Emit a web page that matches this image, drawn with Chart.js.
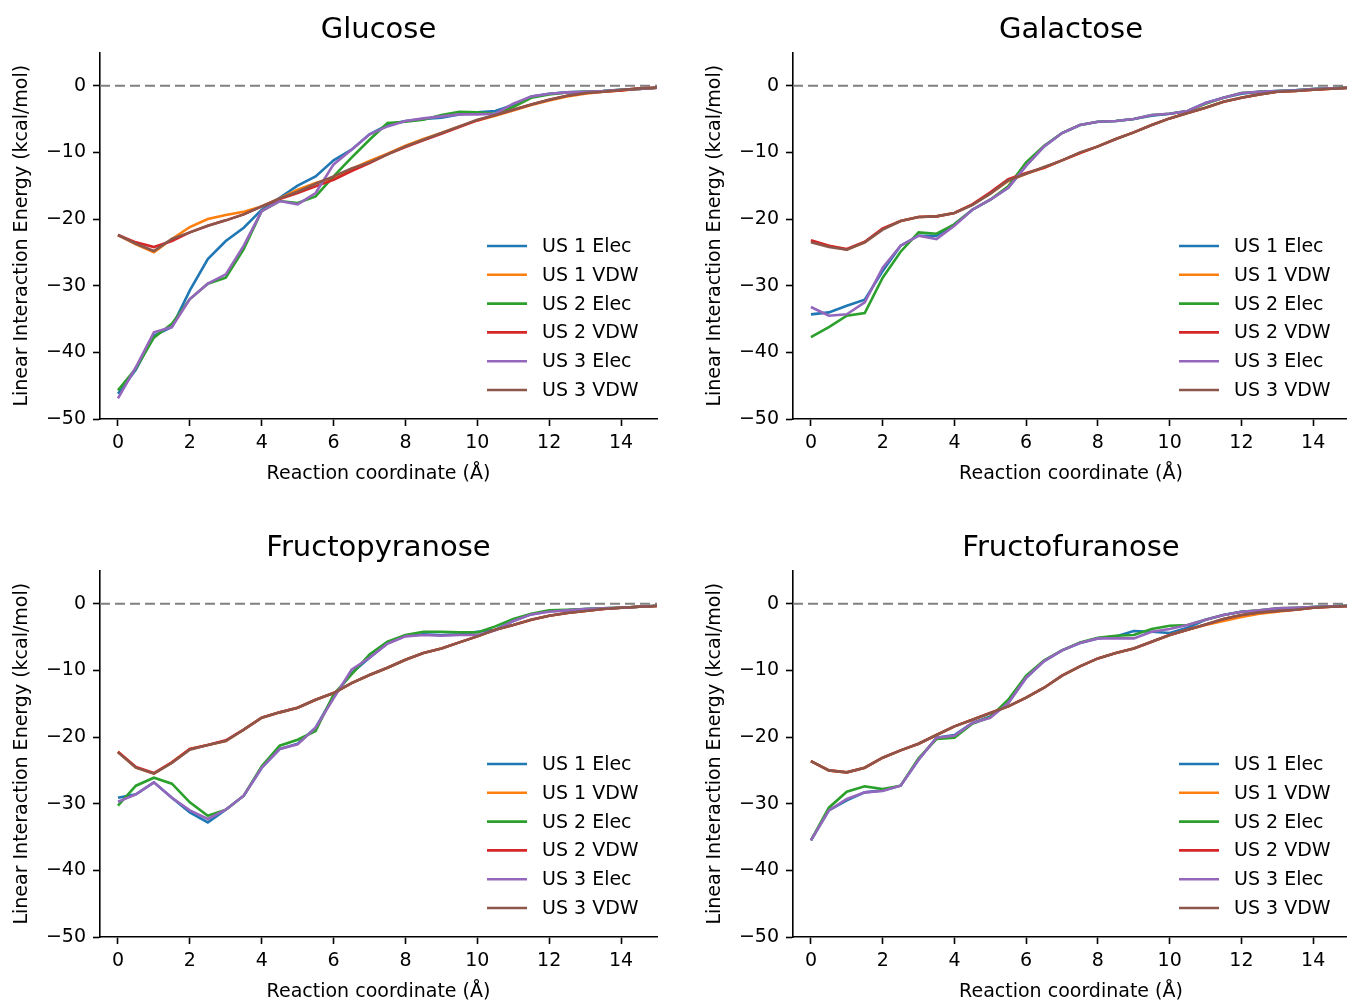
<!DOCTYPE html>
<html>
<head>
<meta charset="utf-8">
<script src="https://cdn.jsdelivr.net/npm/chart.js@4.4.1/dist/chart.umd.min.js"></script>
<style>
    html, body { margin: 0; padding: 0; background: #fff; overflow: hidden; }
    .panel { position: absolute; height: 500px; }
</style>
</head>
<body>
<div class="panel" style="left:0;top:0;width:673px"><canvas id="glucoseChart"></canvas></div>
<div class="panel" style="left:693px;top:0;width:656px"><canvas id="galactoseChart"></canvas></div>
<div class="panel" style="left:0;top:518px;width:673px"><canvas id="fructopyranoseChart"></canvas></div>
<div class="panel" style="left:693px;top:518px;width:656px"><canvas id="fructofuranoseChart"></canvas></div>
<script>
// reaction coordinate (Å)
const coords = [0, 0.5, 1, 1.5, 2, 2.5, 3, 3.5, 4, 4.5, 5, 5.5, 6, 6.5, 7, 7.5,
                8, 8.5, 9, 9.5, 10, 10.5, 11, 11.5, 12, 12.5, 13, 13.5, 14, 14.5, 15];
const xTicks = [0, 2, 4, 6, 8, 10, 12, 14];
const yTicks = [-50, -40, -30, -20, -10, 0];
const seriesLabels = ['US 1 Elec', 'US 1 VDW', 'US 2 Elec', 'US 2 VDW', 'US 3 Elec', 'US 3 VDW'];
const seriesColors = ['#1f77b4', '#ff7f0e', '#2ca02c', '#d62728', '#9467bd', '#8c564b'];

// Glucose
const glucoseUs1Elec = [-46.2, -42.6, -37.5, -36.2, -30.7, -26.0, -23.3, -21.3, -18.6, -16.8, -15.0, -13.6, -11.2, -9.6, -7.3, -5.9, -5.3, -5.0, -4.8, -4.3, -4.0, -3.8, -2.9, -1.6, -1.2, -1.0, -0.9, -0.8, -0.6, -0.5, -0.3];
const glucoseUs1Vdw = [-22.4, -23.8, -25.0, -23.0, -21.2, -20.0, -19.4, -18.9, -18.1, -16.9, -15.6, -14.6, -13.8, -12.5, -11.3, -10.2, -9.0, -8.0, -7.1, -6.1, -5.2, -4.5, -3.7, -2.9, -2.2, -1.6, -1.2, -0.9, -0.7, -0.5, -0.3];
const glucoseUs2Elec = [-45.7, -42.4, -37.8, -35.7, -32.0, -29.7, -28.8, -24.5, -18.8, -17.3, -17.6, -16.6, -13.6, -10.8, -8.1, -5.6, -5.4, -5.1, -4.4, -3.9, -4.0, -4.2, -3.2, -1.8, -1.3, -1.0, -0.9, -0.8, -0.6, -0.5, -0.3];
const glucoseUs2Vdw = [-22.4, -23.5, -24.2, -23.3, -22.0, -21.0, -20.2, -19.3, -18.1, -17.0, -16.1, -15.1, -14.1, -12.8, -11.6, -10.3, -9.2, -8.2, -7.2, -6.2, -5.2, -4.4, -3.6, -2.8, -2.1, -1.5, -1.1, -0.9, -0.7, -0.4, -0.3];
const glucoseUs3Elec = [-46.9, -42.2, -37.0, -36.2, -32.0, -29.7, -28.3, -24.0, -18.8, -17.3, -17.8, -16.1, -11.8, -9.6, -7.3, -6.1, -5.3, -4.9, -4.6, -4.3, -4.3, -4.2, -2.7, -1.6, -1.2, -1.0, -0.9, -0.8, -0.6, -0.5, -0.3];
const glucoseUs3Vdw = [-22.4, -23.7, -24.8, -23.0, -22.0, -21.0, -20.2, -19.3, -18.1, -16.9, -15.9, -14.7, -13.6, -12.4, -11.5, -10.3, -9.1, -8.1, -7.1, -6.1, -5.1, -4.4, -3.6, -2.8, -2.1, -1.5, -1.1, -0.9, -0.65, -0.4, -0.3];

// Galactose
const galactoseUs1Elec = [-34.3, -34.0, -33.0, -32.1, -27.8, -24.0, -22.5, -22.5, -20.8, -18.6, -17.1, -15.3, -12.0, -9.1, -7.1, -5.9, -5.4, -5.3, -5.0, -4.5, -4.2, -3.8, -2.6, -1.8, -1.2, -0.9, -0.8, -0.7, -0.5, -0.4, -0.3];
const galactoseUs1Vdw = [-23.3, -24.0, -24.6, -23.5, -21.5, -20.3, -19.7, -19.6, -19.1, -17.8, -16.2, -14.3, -13.2, -12.3, -11.2, -10.1, -9.1, -8.0, -7.0, -5.9, -4.9, -4.1, -3.3, -2.4, -1.8, -1.3, -0.9, -0.8, -0.6, -0.45, -0.3];
const galactoseUs2Elec = [-37.7, -36.2, -34.5, -34.1, -28.8, -24.9, -22.0, -22.2, -20.8, -18.6, -17.1, -15.1, -11.5, -9.0, -7.1, -5.9, -5.4, -5.3, -5.0, -4.4, -4.2, -3.8, -2.7, -1.8, -1.1, -0.9, -0.8, -0.7, -0.5, -0.4, -0.3];
const galactoseUs2Vdw = [-23.2, -24.0, -24.5, -23.4, -21.4, -20.3, -19.7, -19.6, -19.1, -17.8, -16.0, -14.0, -13.1, -12.3, -11.2, -10.1, -9.1, -8.0, -7.0, -5.9, -4.9, -4.1, -3.3, -2.4, -1.8, -1.3, -0.9, -0.8, -0.6, -0.45, -0.3];
const galactoseUs3Elec = [-33.2, -34.5, -34.3, -32.5, -27.3, -24.0, -22.5, -23.0, -21.0, -18.6, -17.1, -15.3, -12.0, -9.1, -7.1, -5.9, -5.4, -5.3, -5.0, -4.4, -4.2, -3.8, -2.6, -1.8, -1.1, -0.9, -0.8, -0.7, -0.5, -0.4, -0.3];
const galactoseUs3Vdw = [-23.5, -24.2, -24.6, -23.5, -21.6, -20.3, -19.7, -19.6, -19.1, -17.9, -16.2, -14.2, -13.2, -12.2, -11.2, -10.0, -9.1, -8.0, -7.0, -5.9, -4.9, -4.1, -3.3, -2.4, -1.8, -1.3, -0.9, -0.8, -0.6, -0.45, -0.3];

// Fructopyranose
const fructopyranoseUs1Elec = [-29.1, -28.6, -26.8, -29.1, -31.3, -32.8, -30.9, -28.8, -24.6, -21.8, -21.0, -18.6, -13.9, -10.4, -8.1, -5.9, -4.8, -4.6, -4.7, -4.6, -4.2, -3.9, -2.6, -1.6, -1.1, -1.0, -0.8, -0.7, -0.6, -0.45, -0.3];
const fructopyranoseUs1Vdw = [-22.2, -24.6, -25.5, -23.8, -21.8, -21.2, -20.6, -18.9, -17.1, -16.3, -15.6, -14.4, -13.4, -11.9, -10.7, -9.6, -8.4, -7.4, -6.7, -5.8, -4.9, -3.9, -3.2, -2.4, -1.8, -1.4, -1.1, -0.8, -0.6, -0.45, -0.35];
const fructopyranoseUs2Elec = [-30.3, -27.3, -26.1, -27.0, -29.8, -31.8, -30.9, -28.8, -24.4, -21.3, -20.4, -19.1, -13.6, -10.6, -7.6, -5.7, -4.7, -4.2, -4.2, -4.3, -4.3, -3.4, -2.3, -1.5, -1.0, -0.9, -0.8, -0.7, -0.6, -0.45, -0.3];
const fructopyranoseUs2Vdw = [-22.2, -24.5, -25.4, -23.8, -21.8, -21.2, -20.5, -18.9, -17.1, -16.3, -15.6, -14.4, -13.4, -11.9, -10.7, -9.6, -8.4, -7.4, -6.7, -5.8, -4.9, -3.9, -3.2, -2.4, -1.8, -1.4, -1.1, -0.8, -0.6, -0.45, -0.35];
const fructopyranoseUs3Elec = [-29.7, -28.6, -26.8, -29.1, -31.0, -32.3, -30.9, -28.8, -24.6, -21.8, -21.1, -18.6, -14.2, -9.9, -8.1, -6.0, -4.9, -4.7, -4.8, -4.7, -4.7, -4.0, -2.6, -1.6, -1.2, -1.0, -0.8, -0.7, -0.6, -0.45, -0.3];
const fructopyranoseUs3Vdw = [-22.3, -24.6, -25.5, -23.9, -21.9, -21.2, -20.6, -18.9, -17.1, -16.3, -15.6, -14.4, -13.4, -11.9, -10.7, -9.6, -8.4, -7.4, -6.7, -5.8, -4.9, -3.9, -3.2, -2.4, -1.8, -1.4, -1.1, -0.8, -0.6, -0.45, -0.35];

// Fructofuranose
const fructofuranoseUs1Elec = [-35.5, -31.0, -29.5, -28.3, -28.0, -27.3, -23.4, -20.1, -19.7, -17.9, -16.9, -14.9, -11.1, -8.6, -7.0, -5.9, -5.2, -4.9, -4.1, -4.2, -4.4, -3.6, -2.4, -1.7, -1.2, -1.1, -0.8, -0.7, -0.5, -0.4, -0.3];
const fructofuranoseUs1Vdw = [-23.6, -25.0, -25.3, -24.6, -23.1, -22.0, -21.0, -19.7, -18.4, -17.4, -16.4, -15.4, -14.1, -12.6, -10.8, -9.4, -8.2, -7.4, -6.7, -5.7, -4.7, -3.9, -3.2, -2.6, -2.0, -1.5, -1.2, -0.9, -0.6, -0.45, -0.35];
const fructofuranoseUs2Elec = [-35.5, -30.6, -28.2, -27.4, -27.8, -27.3, -23.2, -20.3, -20.1, -18.0, -17.0, -14.4, -10.8, -8.5, -7.0, -5.8, -5.1, -4.8, -4.7, -3.8, -3.3, -3.2, -2.4, -1.7, -1.2, -1.0, -0.7, -0.6, -0.5, -0.4, -0.3];
const fructofuranoseUs2Vdw = [-23.6, -25.0, -25.3, -24.6, -23.1, -22.0, -21.0, -19.7, -18.4, -17.4, -16.4, -15.4, -14.1, -12.6, -10.8, -9.4, -8.2, -7.4, -6.7, -5.7, -4.7, -3.9, -3.1, -2.3, -1.7, -1.3, -1.1, -0.9, -0.6, -0.45, -0.35];
const fructofuranoseUs3Elec = [-35.5, -31.0, -29.3, -28.3, -28.1, -27.3, -23.4, -20.1, -19.8, -17.9, -17.1, -14.9, -11.1, -8.6, -7.0, -5.9, -5.2, -5.2, -5.2, -4.2, -3.8, -3.2, -2.4, -1.7, -1.2, -1.0, -0.7, -0.6, -0.5, -0.4, -0.3];
const fructofuranoseUs3Vdw = [-23.6, -25.0, -25.3, -24.6, -23.1, -22.0, -21.0, -19.7, -18.4, -17.4, -16.4, -15.4, -14.1, -12.6, -10.8, -9.4, -8.2, -7.4, -6.7, -5.7, -4.7, -3.9, -3.1, -2.3, -1.7, -1.3, -1.1, -0.9, -0.6, -0.45, -0.35];

const FONT = 'DejaVu Sans';
const xRange = [-0.5, 15];

// legend drawn inside the plot, lower right
const innerLegend = {
    id: 'innerLegend',
    afterDraw(chart) {
        const ctx = chart.ctx;
        const area = chart.chartArea;
        ctx.save();
        ctx.font = '19px "' + FONT + '"';
        ctx.textBaseline = 'middle';
        ctx.textAlign = 'left';
        seriesLabels.forEach(function(label, i) {
            const y = area.bottom - 173 + i * 28.8;
            ctx.strokeStyle = seriesColors[i];
            ctx.lineWidth = 2.6;
            ctx.beginPath();
            ctx.moveTo(area.right - 170, y);
            ctx.lineTo(area.right - 130, y);
            ctx.stroke();
            ctx.fillStyle = '#000';
            ctx.fillText(label, area.right - 115, y + 1);
        });
        ctx.restore();
    }
};

function fmtTick(v) {
    return v < 0 ? '\u2212' + Math.abs(v) : String(v);
}

function makePanel(canvasId, title, series, padRight) {
    const datasets = series.map(function(vals, i) {
        return {
            label: seriesLabels[i],
            data: coords.map(function(x, j) { return { x: x, y: vals[j] }; }),
            borderColor: seriesColors[i],
            borderWidth: 2.6,
            pointRadius: 0,
            tension: 0,
            fill: false,
            order: 10 - i
        };
    });
    datasets.push({
        label: 'zero',
        data: xRange.map(function(x) { return { x: x, y: 0 }; }),
        borderColor: '#808080',
        borderWidth: 2.2,
        borderDash: [10, 5],
        pointRadius: 0,
        order: 20
    });

    return new Chart(document.getElementById(canvasId), {
        type: 'line',
        data: { datasets: datasets },
        plugins: [innerLegend],
        options: {
            responsive: true,
            maintainAspectRatio: false,
            animation: false,
            layout: { padding: { left: 0, right: padRight, top: 0, bottom: 0 } },
            scales: {
                x: {
                    type: 'linear',
                    min: xRange[0],
                    max: xRange[1],
                    afterBuildTicks: function(s) { s.ticks = xTicks.map(function(v) { return { value: v }; }); },
                    afterFit: function(s) { s.height = 81; },
                    grid: { drawOnChartArea: false, drawTicks: true, tickLength: 7, tickWidth: 1.6, tickColor: '#000' },
                    border: { display: true, color: '#000', width: 1.6 },
                    ticks: { color: '#000', font: { family: FONT, size: 19 }, padding: 6, maxRotation: 0, autoSkip: false, callback: fmtTick },
                    title: { display: true, text: 'Reaction coordinate (Å)', color: '#000', font: { family: FONT, size: 19 }, padding: { top: 0, bottom: 15 } }
                },
                y: {
                    type: 'linear',
                    min: -50,
                    max: 5,
                    afterBuildTicks: function(s) { s.ticks = yTicks.map(function(v) { return { value: v }; }); },
                    afterFit: function(s) { s.width = 100; },
                    grid: { drawOnChartArea: false, drawTicks: true, tickLength: 7, tickWidth: 1.6, tickColor: '#000' },
                    border: { display: true, color: '#000', width: 1.6 },
                    ticks: { color: '#000', font: { family: FONT, size: 19 }, padding: 7, callback: fmtTick },
                    title: { display: true, text: 'Linear Interaction Energy (kcal/mol)', color: '#000', font: { family: FONT, size: 19 }, padding: { top: 11, bottom: 0 } }
                }
            },
            plugins: {
                legend: { display: false },
                tooltip: { enabled: false },
                title: {
                    display: true,
                    text: title,
                    fullSize: false,
                    color: '#000',
                    font: { family: FONT, size: 29, weight: 'normal' },
                    padding: { top: 13, bottom: 4.6 }
                }
            }
        }
    });
}

document.addEventListener('DOMContentLoaded', function() {
    makePanel('glucoseChart', 'Glucose',
        [glucoseUs1Elec, glucoseUs1Vdw, glucoseUs2Elec, glucoseUs2Vdw, glucoseUs3Elec, glucoseUs3Vdw], 16);
    makePanel('galactoseChart', 'Galactose',
        [galactoseUs1Elec, galactoseUs1Vdw, galactoseUs2Elec, galactoseUs2Vdw, galactoseUs3Elec, galactoseUs3Vdw], 0);
    makePanel('fructopyranoseChart', 'Fructopyranose',
        [fructopyranoseUs1Elec, fructopyranoseUs1Vdw, fructopyranoseUs2Elec, fructopyranoseUs2Vdw, fructopyranoseUs3Elec, fructopyranoseUs3Vdw], 16);
    makePanel('fructofuranoseChart', 'Fructofuranose',
        [fructofuranoseUs1Elec, fructofuranoseUs1Vdw, fructofuranoseUs2Elec, fructofuranoseUs2Vdw, fructofuranoseUs3Elec, fructofuranoseUs3Vdw], 0);
});
</script>
</body>
</html>
